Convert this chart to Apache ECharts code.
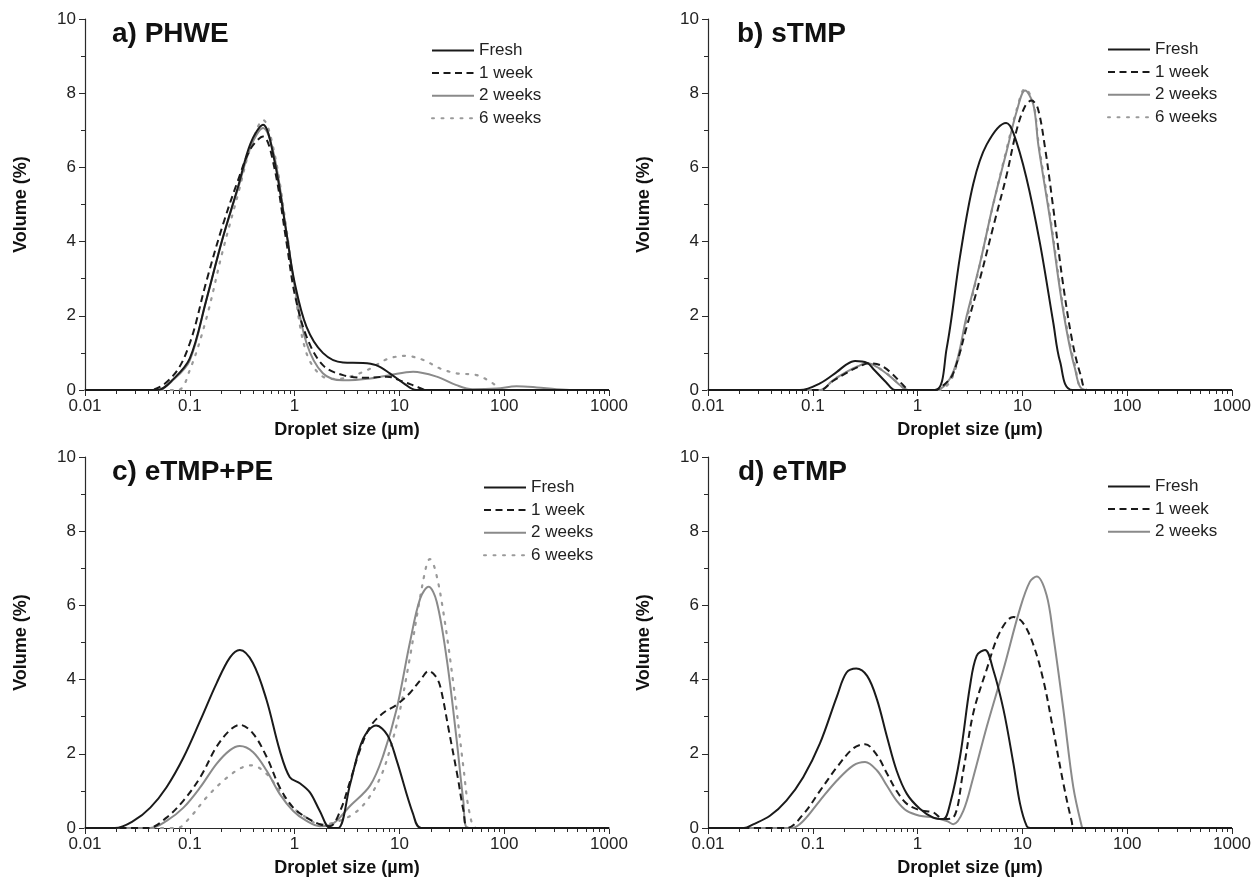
<!DOCTYPE html>
<html><head><meta charset="utf-8">
<script src="https://cdn.jsdelivr.net/npm/echarts@6/dist/echarts.min.js"></script>
<style>html,body{margin:0;padding:0;background:#fff}#c{width:1257px;height:886px}</style>
</head><body><div id="c"></div>
<script>
// ---- tick labels / names ----
const seriesNames = ['Fresh', '1 week', '2 weeks', '6 weeks'];
const panelTitles = ['a) PHWE', 'b) sTMP', 'c) eTMP+PE', 'd) eTMP'];
const xTickValues = [0.01, 0.1, 1, 10, 100, 1000];
const xAxisTitle = 'Droplet size (µm)';
const yAxisTitle = 'Volume (%)';

// ---- data: [droplet size (µm), volume (%)] ----
// a) PHWE
const aFresh = [[0.01,0],[0.049,0],[0.07,0.3],[0.1,0.85],[0.143,2.4],[0.204,4.05],[0.29,5.5],[0.38,6.65],[0.5,7.15],[0.64,6.2],[0.84,4.2],[1.0,2.9],[1.3,1.7],[1.86,1.0],[2.9,0.74],[4.5,0.73],[6.0,0.67],[8.1,0.45],[11,0.18],[14.5,0],[1000,0]];
const aWeek1 = [[0.01,0],[0.041,0],[0.07,0.4],[0.1,1.26],[0.143,2.9],[0.204,4.4],[0.29,5.67],[0.38,6.5],[0.5,6.83],[0.64,6.0],[0.84,3.95],[1.0,2.6],[1.3,1.44],[1.86,0.67],[2.9,0.4],[4.9,0.33],[7.6,0.36],[11,0.22],[14.6,0.09],[18.3,0],[1000,0]];
const aWeek2 = [[0.01,0],[0.049,0],[0.07,0.28],[0.1,0.8],[0.143,2.4],[0.204,4.05],[0.29,5.45],[0.38,6.55],[0.5,7.06],[0.64,6.3],[0.84,4.2],[1.0,2.8],[1.3,1.26],[1.86,0.45],[2.9,0.26],[5.3,0.31],[8.1,0.4],[13.5,0.49],[22.7,0.36],[35,0.13],[50,0.02],[85,0.04],[131,0.1],[204,0.07],[316,0.02],[450,0],[1000,0]];
const aWeek6 = [[0.01,0],[0.076,0],[0.1,0.54],[0.143,1.9],[0.204,3.7],[0.29,5.3],[0.38,6.55],[0.5,7.28],[0.64,6.4],[0.84,4.3],[1.0,2.7],[1.3,0.99],[1.86,0.36],[2.5,0.3],[3.4,0.36],[5.3,0.58],[7.6,0.83],[11.3,0.92],[16.9,0.81],[24.4,0.58],[35,0.45],[55,0.4],[78,0.18],[95,0],[1000,0]];

// b) sTMP
const bFresh = [[0.01,0],[0.0755,0],[0.117,0.18],[0.17,0.49],[0.21,0.69],[0.253,0.78],[0.33,0.73],[0.38,0.56],[0.5,0.21],[0.61,0],[1.47,0],[1.89,1.11],[2.54,3.6],[3.4,5.56],[4.57,6.62],[7.0,7.2],[8.2,6.93],[10.9,5.73],[14.7,3.96],[19.7,1.82],[22.9,0.76],[30,0],[1000,0]];
const bWeek1 = [[0.01,0],[0.117,0],[0.157,0.25],[0.21,0.46],[0.27,0.62],[0.35,0.72],[0.44,0.67],[0.57,0.44],[0.73,0.13],[0.84,0],[1.45,0],[1.8,0.15],[2.19,0.45],[2.94,1.7],[3.94,3.0],[5.27,4.4],[7.08,5.8],[8.8,7.0],[10.6,7.65],[12.2,7.8],[14,7.6],[16.5,6.5],[19.5,5.0],[24.3,2.9],[30,1.3],[36,0.4],[42,0],[1000,0]];
const bWeek2 = [[0.01,0],[0.117,0],[0.157,0.27],[0.21,0.49],[0.27,0.64],[0.33,0.73],[0.41,0.62],[0.55,0.36],[0.68,0.13],[0.81,0],[1.5,0],[2.19,0.49],[2.94,2.0],[3.94,3.42],[5.27,5.02],[7.08,6.44],[8.8,7.5],[10.6,8.07],[12.7,7.7],[14.2,6.6],[18.6,4.5],[24.3,2.2],[31.6,0.6],[40,0],[1000,0]];
const bWeek6 = [[0.01,0],[0.117,0],[0.157,0.27],[0.21,0.48],[0.27,0.63],[0.33,0.72],[0.41,0.62],[0.55,0.37],[0.68,0.13],[0.81,0],[1.6,0],[2.19,0.4],[2.94,1.9],[3.94,3.4],[5.27,5.0],[7.08,6.5],[8.8,7.55],[10.6,8.12],[12.7,7.75],[14.2,6.7],[18.6,4.6],[24.3,2.3],[31.6,0.7],[40,0],[1000,0]];

// c) eTMP+PE
const cFresh = [[0.01,0],[0.0193,0],[0.029,0.19],[0.042,0.55],[0.06,1.1],[0.087,1.9],[0.126,2.9],[0.18,3.9],[0.242,4.6],[0.30,4.8],[0.40,4.45],[0.54,3.45],[0.72,2.1],[0.9,1.37],[1.13,1.2],[1.4,0.96],[1.74,0.46],[2.18,0],[2.6,0],[3.4,1.2],[4.5,2.4],[6.0,2.76],[7.7,2.5],[9.4,1.83],[13.5,0.38],[16.2,0],[1000,0]];
const cWeek1 = [[0.01,0],[0.04,0],[0.06,0.28],[0.087,0.74],[0.126,1.37],[0.18,2.19],[0.242,2.64],[0.30,2.78],[0.40,2.55],[0.54,1.92],[0.72,1.1],[0.97,0.55],[1.3,0.28],[1.74,0.1],[2.18,0.05],[2.72,0.46],[3.4,1.28],[4.2,2.1],[5.26,2.73],[7.0,3.1],[9.4,3.32],[12.6,3.64],[16,4.0],[19,4.23],[22,4.1],[24.5,3.82],[30,2.55],[36,1.37],[41,0.45],[46,0],[1000,0]];
const cWeek2 = [[0.01,0],[0.042,0],[0.06,0.19],[0.087,0.55],[0.126,1.1],[0.18,1.73],[0.242,2.1],[0.30,2.21],[0.40,2.05],[0.54,1.55],[0.72,0.92],[0.97,0.46],[1.3,0.19],[1.74,0.05],[2.2,0.08],[3.4,0.6],[5.26,1.15],[7.0,1.95],[9.4,3.2],[12.6,5.0],[15.8,6.19],[19,6.5],[22.7,6.1],[28.3,4.55],[35.2,2.37],[40.7,0.74],[45,0],[1000,0]];
const cWeek6 = [[0.01,0],[0.075,0],[0.1,0.28],[0.145,0.83],[0.21,1.28],[0.30,1.6],[0.39,1.69],[0.54,1.46],[0.72,1.0],[0.97,0.55],[1.3,0.28],[1.74,0.1],[2.35,0.14],[3.6,0.37],[4.9,0.74],[6.6,1.37],[8.1,2.1],[10,3.1],[12.6,4.6],[15.5,6.1],[18.2,7.1],[19.5,7.25],[22,6.95],[26,5.9],[32.7,3.9],[40.8,1.64],[47,0.37],[55,0],[1000,0]];

// d) eTMP
const dFresh = [[0.01,0],[0.022,0],[0.027,0.1],[0.039,0.33],[0.056,0.74],[0.081,1.37],[0.117,2.28],[0.17,3.55],[0.21,4.19],[0.26,4.3],[0.33,4.1],[0.41,3.46],[0.51,2.46],[0.63,1.55],[0.79,0.92],[1.05,0.52],[1.41,0.28],[1.76,0.24],[2.04,0.65],[2.54,1.92],[3.16,3.82],[3.66,4.64],[4.4,4.8],[5.25,4.28],[6.6,3.19],[8.2,1.74],[9.5,0.65],[11,0.05],[12,0],[1000,0]];
const dWeek1 = [[0.01,0],[0.056,0],[0.081,0.37],[0.117,1.0],[0.17,1.64],[0.244,2.15],[0.315,2.26],[0.41,1.96],[0.51,1.47],[0.63,1.0],[0.79,0.65],[1.05,0.48],[1.41,0.42],[1.76,0.24],[2.19,0.28],[2.73,1.55],[3.4,3.1],[4.57,4.28],[6.1,5.28],[8.2,5.69],[10,5.55],[12.5,5.0],[15.8,4.0],[19.7,2.64],[24.6,1.2],[29.5,0.19],[31.5,0],[1000,0]];
const dWeek2 = [[0.01,0],[0.063,0],[0.081,0.19],[0.117,0.74],[0.17,1.28],[0.244,1.69],[0.315,1.78],[0.41,1.55],[0.51,1.14],[0.63,0.74],[0.79,0.46],[1.05,0.33],[1.41,0.28],[1.9,0.19],[2.19,0.1],[2.73,0.46],[3.4,1.37],[4.57,2.73],[6.6,4.28],[9.5,5.92],[11.8,6.64],[13.7,6.78],[17,6.28],[19.7,5.19],[24.6,3.19],[30.6,1.1],[36.8,0.05],[38,0],[1000,0]];

const panelData = [
  [aFresh, aWeek1, aWeek2, aWeek6],
  [bFresh, bWeek1, bWeek2, bWeek6],
  [cFresh, cWeek1, cWeek2, cWeek6],
  [dFresh, dWeek1, dWeek2]
];

// ---- layout / style ----
const FONT = '"Liberation Sans", Arial, Helvetica, sans-serif';
const grids = [
  {left: 85, top: 19, width: 524, height: 371},
  {left: 708, top: 19, width: 524, height: 371},
  {left: 85, top: 457, width: 524, height: 371},
  {left: 708, top: 457, width: 524, height: 371}
];
const titlePos = [[112, 20], [737, 20], [112, 458], [738, 458]];
const legendPos = [[431, 42], [1107, 41], [483, 479], [1107, 478]];
const lineStyles = [
  {color: '#1a1a1a', type: 'solid', width: 2},
  {color: '#1a1a1a', type: [7, 4.5], width: 2},
  {color: '#8a8a8a', type: 'solid', width: 2},
  {color: '#9a9a9a', type: [2, 7.5], width: 2.2, cap: 'round'}
];

const minorTicks = [];
[0.01, 0.1, 1, 10, 100].forEach(d => { for (let m = 2; m <= 9; m++) minorTicks.push(Number((m * d).toPrecision(3))); });

const axisColor = '#2a2a2a';
const option = {
  animation: false,
  backgroundColor: '#fff',
  title: panelTitles.map((t, i) => ({
    text: t, left: titlePos[i][0], top: titlePos[i][1], padding: 0,
    textStyle: {fontFamily: FONT, fontSize: 28, fontWeight: 'bold', color: '#111'}
  })),
  legend: panelData.map((pd, i) => ({
    orient: 'vertical', left: legendPos[i][0], top: legendPos[i][1], padding: 0,
    itemWidth: 42, itemHeight: 12, itemGap: 5.6,
    data: seriesNames.slice(0, pd.length),
    selectedMode: false,
    itemStyle: {opacity: 0, borderWidth: 0},
    textStyle: {fontFamily: FONT, fontSize: 17, color: '#222'}
  })),
  grid: grids,
  xAxis: [],
  yAxis: [],
  series: []
};

grids.forEach((g, i) => {
  option.xAxis.push({
    type: 'log', logBase: 10, gridIndex: i, min: 0.01, max: 1000, position: 'bottom',
    name: xAxisTitle, nameLocation: 'middle', nameGap: 31,
    nameTextStyle: {fontFamily: FONT, fontSize: 18, fontWeight: 'bold', color: '#111'},
    axisLine: {show: true, lineStyle: {color: axisColor, width: 1.2}},
    axisTick: {show: true, inside: false, length: 6, customValues: xTickValues, lineStyle: {color: axisColor}},
    axisLabel: {show: true, customValues: xTickValues, margin: 8, fontFamily: FONT, fontSize: 17, color: '#222',
      formatter: v => String(Number(Number(v).toPrecision(6)))},
    splitLine: {show: false}, minorTick: {show: false}
  });
  option.xAxis.push({
    type: 'log', logBase: 10, gridIndex: i, min: 0.01, max: 1000, position: 'bottom', offset: 0,
    axisLine: {show: false},
    axisTick: {show: true, inside: false, length: 4, customValues: minorTicks, lineStyle: {color: axisColor}},
    axisLabel: {show: false}, splitLine: {show: false}
  });
  option.yAxis.push({
    type: 'value', gridIndex: i, min: 0, max: 10, interval: 2,
    name: yAxisTitle, nameLocation: 'middle', nameGap: 55,
    nameTextStyle: {fontFamily: FONT, fontSize: 18, fontWeight: 'bold', color: '#111'},
    axisLine: {show: true, lineStyle: {color: axisColor, width: 1.2}},
    axisTick: {show: true, inside: false, length: 6, lineStyle: {color: axisColor}},
    minorTick: {show: true, splitNumber: 2, length: 4, lineStyle: {color: axisColor}},
    axisLabel: {margin: 9, fontFamily: FONT, fontSize: 17, color: '#222'},
    splitLine: {show: false}
  });
  const pd = panelData[i];
  for (let s = pd.length - 1; s >= 0; s--) {
    option.series.push({
      type: 'line', name: seriesNames[s], xAxisIndex: 2 * i, yAxisIndex: i,
      data: pd[s], symbol: 'none', smooth: 0.35, z: 10 - s,
      lineStyle: lineStyles[s], itemStyle: {color: lineStyles[s].color}
    });
  }
});

const chart = echarts.init(document.getElementById('c'), null, {renderer: 'canvas'});
chart.setOption(option);
</script>
</body></html>
